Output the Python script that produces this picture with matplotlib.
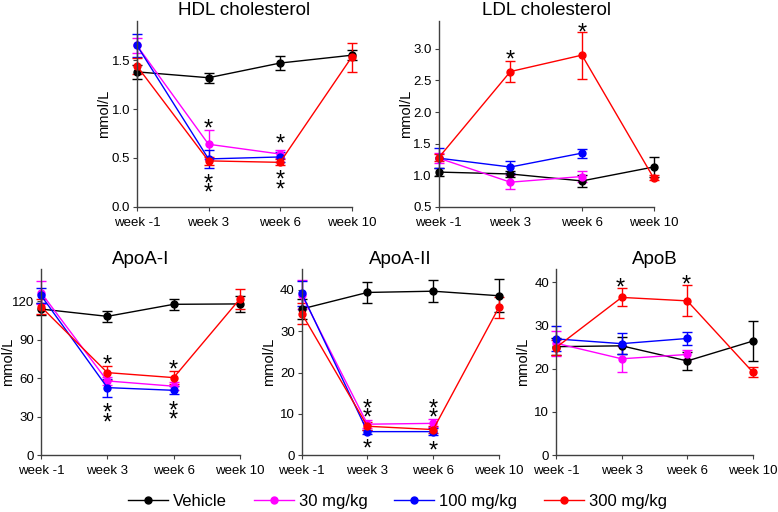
import numpy as np
import matplotlib
matplotlib.use("Agg")
import matplotlib.pyplot as plt
from matplotlib.lines import Line2D

plt.rcParams['font.family'] = ['Liberation Sans', 'DejaVu Sans']

nan = np.nan

# etiquetas comunes
semanas = ["week -1", "week 3", "week 6", "week 10"]
grupos = ["Vehicle", "30 mg/kg", "100 mg/kg", "300 mg/kg"]
colores = ["#000000", "#ff00ff", "#0000ff", "#ff0000"]

# HDL colesterol (mmol/L)
hdl_media = [[1.38, 1.32, 1.47, 1.55],
             [1.65, 0.64, 0.54, nan],
             [1.65, 0.49, 0.51, nan],
             [1.44, 0.47, 0.455, 1.53]]
hdl_err = [[0.07, 0.05, 0.07, 0.05],
           [0.08, 0.15, 0.04, nan],
           [0.12, 0.09, 0.05, nan],
           [0.08, 0.04, 0.03, 0.15]]
# (semana, valor, texto)
hdl_asteriscos = [(1, 0.87, "*"), (1, 0.255, "*\n*"), (2, 0.71, "*"), (2, 0.295, "*\n*")]

# LDL colesterol (mmol/L)
ldl_media = [[1.05, 1.02, 0.91, 1.13],
             [1.27, 0.89, 0.98, nan],
             [1.27, 1.13, 1.35, nan],
             [1.28, 2.64, 2.90, 0.96]]
ldl_err = [[0.06, 0.05, 0.09, 0.16],
           [0.08, 0.11, 0.09, nan],
           [0.16, 0.10, 0.07, nan],
           [0.06, 0.17, 0.37, 0.04]]
ldl_asteriscos = [(1, 2.93, "*"), (2, 3.36, "*")]

# ApoA-I
apoa1_media = [[114, 108.3, 117.7, 118],
               [126.8, 57.9, 53.8, nan],
               [124.7, 52.7, 50.6, nan],
               [115.8, 64.4, 60.5, 122]]
apoa1_err = [[5, 4.5, 4.5, 6],
             [9, 3, 3, nan],
             [6, 7, 3, nan],
             [6, 5.5, 5, 8]]
apoa1_asteriscos = [(1, 76, "*"), (1, 34.3, "*\n*"), (2, 72, "*"), (2, 36.3, "*\n*")]

# ApoA-II
apoa2_media = [[35.4, 39.4, 39.7, 38.6],
               [38.8, 7.5, 7.7, nan],
               [39.2, 5.7, 5.7, nan],
               [34.3, 7.0, 6.2, 35.8]]
apoa2_err = [[2.5, 2.6, 2.7, 4],
             [3.5, 1, 1, nan],
             [3, 0.5, 0.8, nan],
             [2.6, 1, 0.8, 2.5]]
apoa2_asteriscos = [(1, 11.8, "*\n*"), (1, 3.1, "*"), (2, 11.7, "*\n*"), (2, 2.6, "*")]

# ApoB
apob_media = [[25.1, 25.3, 21.8, 26.4],
              [25.9, 22.3, 23.3, nan],
              [26.9, 25.8, 27.0, nan],
              [24.9, 36.5, 35.7, 19.2]]
apob_err = [[2, 2, 2, 4.7],
            [2.9, 3, 1, nan],
            [2.9, 2.4, 1.5, nan],
            [1.8, 2.1, 3.6, 1.2]]
apob_asteriscos = [(0.98, 40.2, "*"), (1.98, 40.9, "*")]

tam_ast = 17
ancho_fig, alto_fig = 778, 512


def panel(fig, rect, titulo, medias, errores, asteriscos, ylim, yticks, ytl):
    ax = fig.add_axes(rect)
    x = np.arange(len(semanas))
    for m, e, c in zip(medias, errores, colores):
        m = np.array(m, dtype=float)
        e = np.array(e, dtype=float)
        ok = ~np.isnan(m)
        linea, caps, barras = ax.errorbar(x[ok], m[ok], yerr=e[ok], color=c, marker="o", ms=5,
                                          lw=1, elinewidth=1, capsize=3.5, capthick=1)
        for a in [linea, *caps, *barras]:
            a.set_clip_on(False)
    for (xi, yi, t) in asteriscos:
        if "\n" in t:
            ax.annotate(t, (xi, yi), xytext=(0, -5.3), textcoords="offset points",
                        ha="center", va="center", fontsize=tam_ast, linespacing=0.26)
        else:
            ax.annotate(t, (xi, yi), xytext=(0, -9.7), textcoords="offset points",
                        ha="center", va="baseline", fontsize=tam_ast)
    ax.set_xlim(0, 3)
    ax.set_ylim(*ylim)
    ax.set_xticks(x)
    ax.set_xticklabels(semanas, fontsize=9.5)
    ax.set_yticks(yticks)
    ax.set_yticklabels(ytl, fontsize=9.5)
    ax.set_ylabel("mmol/L", fontsize=10.5)
    # etiqueta a ~33 px del eje
    ax.yaxis.set_label_coords(-26 / (rect[2] * ancho_fig), 0.5)
    ax.set_title(titulo, fontsize=13.5, pad=4)
    for s in ["top", "right"]:
        ax.spines[s].set_visible(False)
    for s in ["left", "bottom"]:
        ax.spines[s].set_color("#404040")
        ax.spines[s].set_linewidth(1)
    ax.tick_params(length=3, color="#404040", pad=2)
    ax.tick_params(axis="x", pad=4)
    return ax


fig = plt.figure(figsize=(ancho_fig / 100, alto_fig / 100), dpi=100)

fila1_y, alto = 0.596, 0.363
fila2_y = 0.111

panel(fig, [0.176, fila1_y, 0.276, alto], "HDL cholesterol", hdl_media, hdl_err,
      hdl_asteriscos, (0, 1.9), [0, 0.5, 1.0, 1.5], ["0.0", "0.5", "1.0", "1.5"])
panel(fig, [0.564, fila1_y, 0.276, alto], "LDL cholesterol", ldl_media, ldl_err,
      ldl_asteriscos, (0.5, 3.44), [0.5, 1.0, 1.5, 2.0, 2.5, 3.0],
      ["0.5", "1.0", "1.5", "2.0", "2.5", "3.0"])
panel(fig, [0.0527, fila2_y, 0.2558, alto], "ApoA-I", apoa1_media, apoa1_err,
      apoa1_asteriscos, (0, 145), [0, 30, 60, 90, 120], ["0", "30", "60", "90", "120"])
panel(fig, [0.3878, fila2_y, 0.2535, alto], "ApoA-II", apoa2_media, apoa2_err,
      apoa2_asteriscos, (0, 45), [0, 10, 20, 30, 40], ["0", "10", "20", "30", "40"])
panel(fig, [0.7147, fila2_y, 0.253, alto], "ApoB", apob_media, apob_err,
      apob_asteriscos, (0, 43), [0, 10, 20, 30, 40], ["0", "10", "20", "30", "40"])

manijas = [Line2D([], [], color=c, marker="o", ms=5, lw=1) for c in colores]
fig.legend(manijas, grupos, loc="center", bbox_to_anchor=(0.511, 0.021), ncol=4, frameon=False,
           fontsize=12, handlelength=2.4, handletextpad=0.3, columnspacing=1.6,
           borderpad=0)

fig.savefig("out.png", dpi=100)
